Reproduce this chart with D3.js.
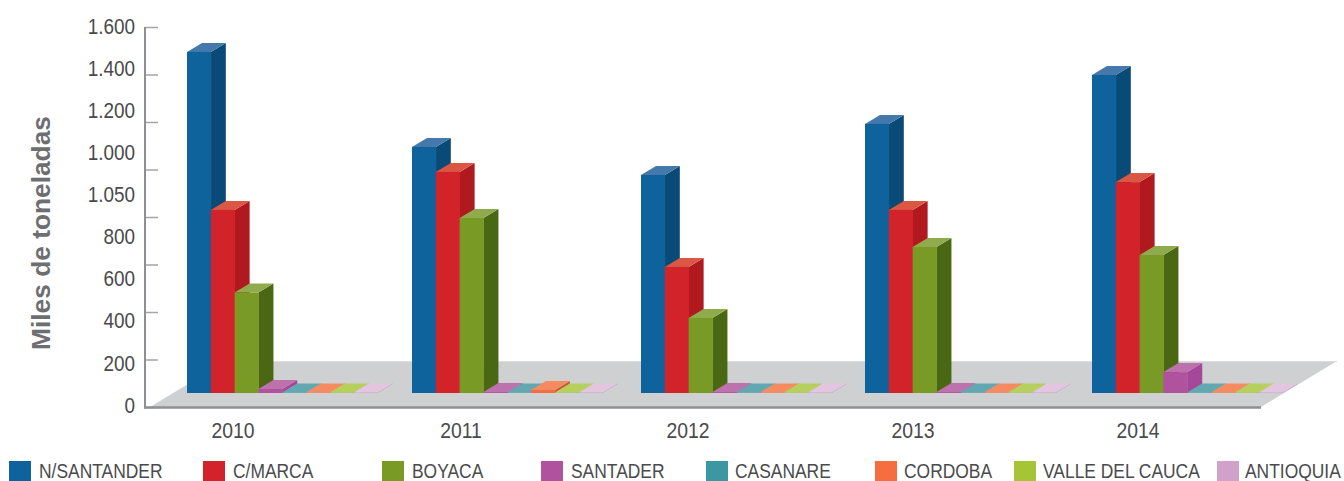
<!DOCTYPE html>
<html>
<head>
<meta charset="utf-8">
<script src="https://cdnjs.cloudflare.com/ajax/libs/d3/7.8.5/d3.min.js"></script>
<style>
html,body{margin:0;padding:0;background:#fff;overflow:hidden;}
text{font-family:"Liberation Sans",Arial,sans-serif;}
</style>
</head>
<body>
<div id="chart"></div>
<script>
var years = ["2010","2011","2012","2013","2014"];
var series = ["N/SANTANDER","C/MARCA","BOYACA","SANTADER","CASANARE","CORDOBA","VALLE DEL CAUCA","ANTIOQUIA"];
var tickLabels = ["1.600","1.400","1.200","1.000","1.050","800","600","400","200","0"];
var tickValues = [0,200,400,600,800,1000,1200,1400,1600];

var nSantander = [1436,1036,918,1133,1339];
var cMarca = [771,931,531,771,888];
var boyaca = [423,737,316,615,581];
var santader = [17,4,4,4,88];
var casanare = [2,2,2,2,2];
var cordoba = [2,13,2,2,2];
var valle = [2,2,2,2,2];
var antioquia = [2,2,2,2,2];
var values = [nSantander,cMarca,boyaca,santader,casanare,cordoba,valle,antioquia];

var frontColors = ["#0f639d","#d2232a","#7a9a26","#b1529e","#3b98a3","#f56e3f","#a5c536","#d0a2c9"];
var sideColors = ["#0a4a77","#b01a1f","#4a6813","#a5489a","#2f7f89","#c85a32","#8aa62c","#b98ab2"];
var topColors = ["#4679ab","#da5744","#8fab4e","#bd72ad","#62a8b1","#f68b61","#b6d05d","#e2c5de"];

var legendSwatchX = [9,203,382,541,706,875,1014,1217];
var legendTextX = [39,233,412,571,735,904,1043,1245];

var width = 1344, height = 481;
var depthX = 15, depthY = 9, baseShift = 14;
var textColor = "#4a4a4c";

var svg = d3.select("#chart")
    .append("svg")
    .attr("width",width)
    .attr("height",height)
    .style("display","block");

var yScale = d3.scaleLinear()
    .domain([0,1600])
    .range([407,27]);

// the printed labels do not line up with the tick marks in the original
var labelScale = d3.scalePoint()
    .domain(tickLabels)
    .range([26,405]);

var groupScale = d3.scaleOrdinal()
    .domain(years)
    .range([187,412,641,865,1092]);

var barScale = d3.scaleBand()
    .domain(series)
    .range([0,190.5]);

var yearLabelScale = d3.scaleOrdinal()
    .domain(years)
    .range([233,461,688,913,1138]);

// squeeze text horizontally like the original artwork
function squeeze(sel,condense){
    sel.each(function(){
        var len = this.getComputedTextLength();
        d3.select(this)
            .attr("textLength",len*condense)
            .attr("lengthAdjust","spacingAndGlyphs");
    });
}

// floor
var floorLeft = 150, floorRight = 1261, floorBack = 361, floorFront = 407, floorSkew = 76;
svg.append("polygon")
    .attr("points",[[floorLeft,floorFront],[floorLeft+floorSkew,floorBack],[floorRight+floorSkew,floorBack],[floorRight,floorFront]].join(" "))
    .attr("fill","#cfd0d2");
svg.append("line")
    .attr("x1",floorLeft+floorSkew)
    .attr("x2",floorRight+floorSkew)
    .attr("y1",floorBack+0.5)
    .attr("y2",floorBack+0.5)
    .attr("stroke","#dcdddf");

// y axis ticks
var yAxis = d3.axisLeft(yScale)
    .tickValues(tickValues)
    .tickSize(-13)
    .tickFormat("");
var axisG = svg.append("g")
    .attr("transform","translate(145,0)")
    .call(yAxis);
axisG.select(".domain").remove();
axisG.selectAll(".tick line")
    .attr("stroke","#a4a5a8")
    .attr("stroke-width",1.5);
svg.append("line")
    .attr("x1",145).attr("x2",145)
    .attr("y1",27).attr("y2",408.5)
    .attr("stroke","#8e8f92")
    .attr("stroke-width",2);
svg.append("line")
    .attr("x1",144).attr("x2",floorRight)
    .attr("y1",407.5).attr("y2",407.5)
    .attr("stroke","#8e8f92")
    .attr("stroke-width",2.5);

// y axis labels
var labelAxis = d3.axisLeft(labelScale).tickSize(0).tickPadding(0);
var labelG = svg.append("g")
    .attr("transform","translate(135,0)")
    .call(labelAxis);
labelG.select(".domain").remove();
labelG.selectAll("text")
    .attr("fill",textColor)
    .attr("font-size",22.5)
    .attr("font-family","Liberation Sans")
    .call(squeeze,0.84);

// x axis labels
svg.selectAll(".yearLabel")
    .data(years)
    .enter()
    .append("text")
    .attr("class","yearLabel")
    .attr("x",function(d){return yearLabelScale(d);})
    .attr("y",437.5)
    .attr("text-anchor","middle")
    .attr("font-size",22.5)
    .attr("fill",textColor)
    .text(function(d){return d;})
    .call(squeeze,0.86);

// y title
svg.append("text")
    .attr("transform","translate(50,233) rotate(-90)")
    .attr("text-anchor","middle")
    .attr("font-size",26.3)
    .attr("font-weight","bold")
    .attr("fill","#6d6e71")
    .text("Miles de toneladas");

// bars, left to right so each one covers the side of the last
var bars = [];
years.forEach(function(year,i){
    series.forEach(function(name,j){
        bars.push({year:year,name:name,index:j,value:values[j][i]});
    });
});

var barG = svg.append("g")
    .selectAll("g")
    .data(bars)
    .enter()
    .append("g")
    .attr("transform",function(d){
        return "translate("+(groupScale(d.year)+barScale(d.name))+","+(-baseShift)+")";
    });

var w = barScale.bandwidth(), base = yScale(0);

barG.append("polygon")
    .attr("fill",function(d){return sideColors[d.index];})
    .attr("points",function(d){
        var top = yScale(d.value);
        return [[w,top],[w+depthX,top-depthY],[w+depthX,base-depthY],[w,base]].join(" ");
    });
barG.append("polygon")
    .attr("fill",function(d){return topColors[d.index];})
    .attr("points",function(d){
        var top = yScale(d.value);
        return [[0,top],[depthX,top-depthY],[w+depthX,top-depthY],[w,top]].join(" ");
    });
barG.append("rect")
    .attr("x",0)
    .attr("width",w+0.4)
    .attr("y",function(d){return yScale(d.value);})
    .attr("height",function(d){return base-yScale(d.value);})
    .attr("fill",function(d){return frontColors[d.index];});

// legend
svg.selectAll(".swatch")
    .data(series)
    .enter()
    .append("rect")
    .attr("class","swatch")
    .attr("x",function(d,i){return legendSwatchX[i];})
    .attr("y",461)
    .attr("width",22)
    .attr("height",20)
    .attr("fill",function(d,i){return frontColors[i];});
// scale transform instead of textLength, the box stays inside the page this way
svg.selectAll(".legendLabel")
    .data(series)
    .enter()
    .append("text")
    .attr("class","legendLabel")
    .attr("transform",function(d,i){return "translate("+legendTextX[i]+",477.5) scale(0.85,1)";})
    .attr("font-size",20.5)
    .attr("fill",textColor)
    .text(function(d){return d;});
</script>
</body>
</html>
